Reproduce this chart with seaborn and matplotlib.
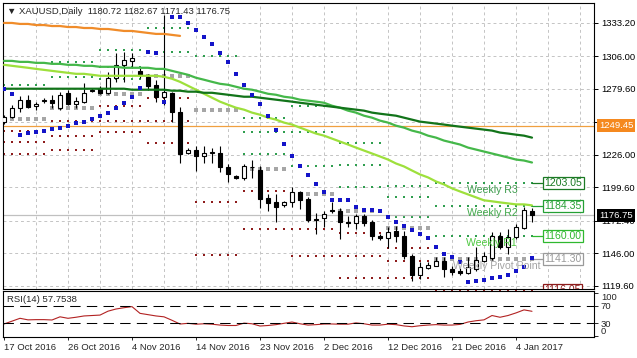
import numpy as np
import pandas as pd
import matplotlib
matplotlib.use('Agg')
import matplotlib.pyplot as plt
import seaborn as sns
from matplotlib.transforms import blended_transform_factory

# ---------------- data ----------------
date_labels = ['17 Oct 2016', '26 Oct 2016', '4 Nov 2016', '14 Nov 2016', '23 Nov 2016',
               '2 Dec 2016', '12 Dec 2016', '21 Dec 2016', '4 Jan 2017']
price_ticks = [1119.60, 1146.00, 1172.40, 1199.60, 1226.00, 1252.80, 1279.60, 1306.00, 1333.20]

opens = [1252.9, 1256.9, 1264.2, 1270.7, 1265.8, 1269.9, 1270.7, 1264.2, 1276.3, 1267.4,
         1269.1, 1278.0, 1280.4, 1276.3, 1288.5, 1299.0, 1302.2, 1294.1, 1289.3, 1282.8,
         1273.1, 1276.3, 1261.0, 1227.8, 1230.2, 1224.6, 1227.8, 1227.8, 1215.7, 1208.4,
         1206.8, 1215.7, 1214.0, 1190.6, 1187.3, 1184.9, 1187.3, 1195.4, 1189.8, 1173.6,
         1174.4, 1180.9, 1180.1, 1171.2, 1170.4, 1176.0, 1171.2, 1159.8, 1158.2, 1163.9,
         1159.8, 1143.7, 1128.3, 1134.0, 1135.6, 1139.6, 1133.1, 1131.5, 1129.9, 1133.1,
         1139.6, 1142.0, 1159.8, 1150.9, 1159.0, 1166.3, 1180.72]
highs = [1258.5, 1266.6, 1273.9, 1274.7, 1269.1, 1272.3, 1274.7, 1277.2, 1278.8, 1273.1,
         1284.4, 1280.4, 1281.5, 1293.3, 1308.7, 1309.5, 1308.7, 1296.6, 1291.7, 1286.9,
         1339.4, 1277.2, 1265.0, 1231.8, 1232.7, 1233.5, 1231.8, 1232.7, 1218.1, 1209.5,
         1218.1, 1222.1, 1216.5, 1193.8, 1193.8, 1188.2, 1199.5, 1196.2, 1191.4, 1178.4,
         1180.1, 1187.3, 1182.5, 1176.0, 1177.6, 1177.6, 1172.8, 1161.5, 1167.1, 1167.9,
         1163.9, 1145.3, 1138.8, 1138.8, 1142.8, 1142.8, 1135.6, 1134.0, 1142.8, 1150.9,
         1146.9, 1163.1, 1163.1, 1165.5, 1169.6, 1183.3, 1182.67]
lows = [1251.3, 1256.1, 1261.0, 1264.2, 1262.6, 1268.2, 1264.2, 1262.6, 1266.6, 1264.2,
        1268.2, 1277.2, 1275.5, 1275.5, 1285.2, 1285.2, 1296.6, 1288.5, 1278.8, 1269.1,
        1266.6, 1252.9, 1219.7, 1227.0, 1212.4, 1219.7, 1219.7, 1211.6, 1203.5, 1206.0,
        1205.9, 1206.8, 1182.5, 1180.1, 1171.2, 1183.3, 1183.3, 1181.7, 1171.2, 1161.5,
        1167.1, 1178.4, 1157.4, 1167.1, 1165.5, 1167.9, 1156.6, 1156.6, 1150.1, 1155.0,
        1141.2, 1123.4, 1125.1, 1133.1, 1135.6, 1126.7, 1128.3, 1128.3, 1129.1, 1131.5,
        1138.8, 1140.4, 1149.3, 1145.3, 1157.4, 1165.5, 1171.43]
closes = [1256.9, 1264.2, 1270.7, 1265.0, 1267.4, 1270.1, 1268.2, 1274.7, 1267.4, 1269.9,
          1276.3, 1278.3, 1276.3, 1288.5, 1299.0, 1303.0, 1304.6, 1290.9, 1282.0, 1273.1,
          1277.2, 1261.0, 1226.2, 1230.2, 1224.6, 1227.8, 1228.2, 1215.7, 1210.0, 1206.8,
          1216.5, 1216.0, 1189.8, 1186.5, 1183.3, 1187.3, 1195.4, 1189.0, 1172.8, 1173.2,
          1177.6, 1180.5, 1171.2, 1170.4, 1176.0, 1170.4, 1159.8, 1158.2, 1163.1, 1159.8,
          1143.7, 1128.3, 1134.8, 1136.4, 1139.6, 1133.1, 1130.7, 1129.9, 1134.8, 1140.4,
          1143.7, 1159.8, 1150.9, 1159.0, 1167.1, 1180.9, 1176.75]

# parabolic SAR
sar = [1279.6, 1275.5, 1242.3, 1244.0, 1244.8, 1245.6, 1247.2, 1248.0, 1249.6, 1252.1,
       1252.9, 1255.3, 1257.7, 1260.2, 1264.2, 1268.2, 1273.1, 1280.4, 1309.5, 1308.7,
       1269.1, 1337.8, 1337.8, 1332.9, 1327.3, 1321.6, 1316.0, 1308.7, 1301.4, 1291.7,
       1282.8, 1274.7, 1267.4, 1257.7, 1246.4, 1235.1, 1224.6, 1216.5, 1209.2, 1201.9,
       1195.4, 1189.0, 1189.0, 1189.0, 1183.3, 1180.9, 1180.9, 1180.1, 1175.2, 1171.2,
       1167.9, 1164.7, 1161.5, 1158.2, 1150.9, 1145.3, 1142.8, 1138.8, 1122.6, 1123.4,
       1124.2, 1125.9, 1126.7, 1128.3, 1131.5, 1134.8, 1142.0]

# moving averages
ma_lime = [1299.0, 1298.2, 1297.4, 1296.6, 1295.7, 1294.9, 1294.1, 1293.3, 1292.5, 1291.7,
           1291.7, 1290.9, 1290.1, 1290.1, 1290.1, 1290.1, 1290.1, 1290.1, 1290.1, 1290.1,
           1289.3, 1287.7, 1285.2, 1282.0, 1278.8, 1275.5, 1272.3, 1269.1, 1266.6, 1264.2,
           1262.6, 1260.2, 1258.5, 1256.1, 1254.5, 1252.1, 1250.5, 1248.0, 1245.6, 1243.2,
           1241.5, 1239.1, 1236.7, 1234.3, 1231.8, 1229.4, 1227.0, 1224.6, 1222.1, 1218.9,
           1216.5, 1213.2, 1210.0, 1207.6, 1204.3, 1201.9, 1198.7, 1196.2, 1193.8, 1191.4,
           1189.0, 1188.2, 1187.3, 1186.5, 1185.7, 1185.7, 1184.9]
ma_mid = [1302.2, 1302.2, 1301.4, 1301.4, 1300.6, 1300.6, 1299.8, 1299.8, 1299.0, 1299.0,
          1298.2, 1298.2, 1297.4, 1297.4, 1297.4, 1296.6, 1296.6, 1296.6, 1296.6, 1295.7,
          1295.7, 1294.1, 1292.5, 1290.9, 1288.5, 1286.9, 1285.2, 1283.6, 1282.8, 1281.2,
          1279.6, 1278.8, 1277.2, 1275.5, 1274.7, 1273.1, 1272.3, 1270.7, 1269.9, 1269.1,
          1268.2, 1265.8, 1264.2, 1261.8, 1260.2, 1257.7, 1256.1, 1253.7, 1252.1, 1249.6,
          1248.0, 1245.6, 1244.0, 1241.5, 1239.9, 1237.5, 1235.9, 1234.3, 1231.8, 1230.2,
          1228.6, 1227.0, 1225.4, 1223.8, 1222.1, 1221.3, 1219.7]
ma_dark = [1279.6, 1279.6, 1279.6, 1279.6, 1279.6, 1279.6, 1279.6, 1279.6, 1279.6, 1279.6,
           1279.6, 1279.6, 1279.6, 1279.6, 1279.6, 1279.6, 1278.8, 1278.8, 1278.8, 1278.8,
           1278.8, 1278.0, 1278.0, 1277.2, 1277.2, 1276.3, 1276.3, 1275.5, 1274.7, 1273.9,
           1273.1, 1273.1, 1272.3, 1271.5, 1270.7, 1269.9, 1269.1, 1268.2, 1267.4, 1266.6,
           1265.8, 1265.0, 1264.2, 1263.4, 1262.6, 1261.8, 1260.2, 1259.3, 1258.5, 1257.7,
           1256.1, 1254.5, 1252.9, 1252.1, 1251.3, 1250.5, 1249.6, 1248.8, 1248.0, 1247.2,
           1246.4, 1245.6, 1244.0, 1243.2, 1242.3, 1241.5, 1239.9]
ma_orange = [1333.0, 1333.0, 1332.2, 1332.2, 1331.3, 1331.3, 1330.5, 1330.5, 1329.7, 1329.7,
             1328.9, 1328.9, 1328.1, 1328.1, 1327.3, 1326.5, 1326.5, 1325.7, 1324.9, 1324.1,
             1324.1, 1323.3, 1322.5]

# weekly pivots (one segment per week, the last one is the current week)
week_start = [0, 6, 12, 18, 24, 30, 36, 42, 48, 54]
week_end = [5, 11, 17, 23, 29, 35, 41, 47, 53, 66]
nan = np.nan
piv_r3 = [nan, nan, 1311.0, nan, nan, 1256.1, 1265.8, 1235.9, 1200.3, 1203.05]
piv_r2 = [nan, 1301.4, 1297.0, 1328.9, nan, 1244.8, 1244.8, 1217.3, 1191.4, 1184.35]
piv_r1 = [1282.8, 1289.3, 1287.6, 1309.5, 1306.3, 1226.2, 1216.5, 1199.5, 1175.2, 1160.00]
piv_p = [1255.3, 1264.2, 1275.3, 1290.1, 1262.6, 1214.8, 1193.8, 1180.1, 1166.3, 1141.30]
piv_s1 = [1245.6, 1253.5, 1265.8, 1272.3, 1187.3, 1196.2, 1165.5, 1162.3, 1150.1, 1116.05]
piv_s2 = [1236.7, 1241.5, 1253.1, 1253.7, 1144.5, nan, 1143.7, 1143.7, 1139.6, nan]
piv_s3 = [1226.2, 1230.2, 1244.4, 1235.9, nan, 1165.5, nan, 1125.9, 1125.9, nan]

rsi = [28.5, 35.0, 41.6, 38.0, 38.5, 38.5, 37.7, 45.0, 41.6, 44.0,
       47.0, 48.0, 49.0, 58.0, 63.0, 66.0, 68.5, 53.0, 50.0, 47.0,
       45.0, 37.0, 28.4, 30.0, 28.0, 29.0, 28.0, 26.0, 25.0, 25.0,
       30.5, 29.0, 23.8, 25.0, 27.0, 30.0, 33.0, 29.0, 26.0, 27.0,
       28.4, 28.5, 28.0, 28.0, 31.0, 29.0, 26.0, 26.0, 28.0, 27.0,
       24.0, 22.2, 24.5, 26.0, 27.0, 26.0, 26.0, 27.5, 33.0, 36.0,
       38.0, 48.0, 44.0, 48.0, 54.0, 61.0, 57.75]

resistance_line = 1249.45
last_price = closes[-1]

# ---------------- frames ----------------
bars = np.arange(len(closes))
ohlc = pd.DataFrame({'bar': bars, 'open': opens, 'high': highs, 'low': lows, 'close': closes})
ind = pd.DataFrame({'bar': bars, 'sar': sar, 'lime': ma_lime, 'mid': ma_mid,
                    'dark': ma_dark, 'rsi': rsi})
orange_df = pd.DataFrame({'bar': bars[:len(ma_orange)], 'ma': ma_orange})

levels = {'R3': piv_r3, 'R2': piv_r2, 'R1': piv_r1, 'P': piv_p,
          'S1': piv_s1, 'S2': piv_s2, 'S3': piv_s3}
rows = []
for lvl, vals in levels.items():
    for w, (a, b, v) in enumerate(zip(week_start, week_end, vals)):
        if np.isnan(v):
            continue
        for i in range(a, b + 1):
            rows.append((i, v, lvl, w))
piv_df = pd.DataFrame(rows, columns=['bar', 'price', 'level', 'week'])
piv_df['kind'] = piv_df.level.str[0]

# ---------------- plotting ----------------
sns.set_theme(style='white', rc={'axes.edgecolor': 'black', 'axes.linewidth': 0.8})
plt.rcParams['font.family'] = ['Liberation Sans', 'DejaVu Sans']
fs = 6.8
W, H = 637, 358

fig = plt.figure(figsize=(W / 100, H / 100), dpi=100)
ax = fig.add_axes([3 / W, 1 - 289 / H, 591 / W, 286 / H])
ax_rsi = fig.add_axes([3 / W, 1 - 337 / H, 591 / W, 46 / H])

xlim = (-0.125, 73.75)
ax.set_xlim(xlim)
ax.set_ylim(1117.0, 1349.2)

# grid
ax.set_xticks(np.arange(4, 74, 4))
ax.set_yticks(price_ticks)
ax.set_yticklabels([f'{t:.2f}' for t in price_ticks])
ax.grid(True, color='#c4c4c4', lw=0.7, ls=(0, (3, 3)))
ax.set_axisbelow(True)
ax.yaxis.tick_right()
ax.tick_params(axis='x', length=0, labelbottom=False)
ax.tick_params(axis='y', direction='out', length=3, width=0.7, pad=2, labelsize=fs,
               colors='black', right=True, left=False)
for s in ax.spines.values():
    s.set_color('black')

# pivot dots
kind_colors = {'R': '#2f9e4f', 'P': '#a6a6a6', 'S': '#8e1c1c'}
for kind, size in [('R', 3), ('S', 3), ('P', 9)]:
    sub = piv_df[piv_df.kind == kind]
    sns.scatterplot(data=sub, x='bar', y='price', color=kind_colors[kind], marker='s',
                    s=size, linewidth=0, ax=ax, legend=False, zorder=2)
    if kind == 'S':
        ax.collections[-1].set_clip_on(False)

# horizontal lines
ax.axhline(resistance_line, color='#f0a040', lw=0.9, zorder=2)
ax.axhline(last_price, color='#c0c0c0', lw=0.9, zorder=2)

# candles
up = ohlc.close >= ohlc.open
ax.vlines(ohlc.bar, ohlc.low, ohlc.high, color='black', lw=0.8, zorder=4)
body = (ohlc.close - ohlc.open).where((ohlc.close - ohlc.open).abs() > 0.3, 0.3)
ax.bar(ohlc.bar, body, bottom=ohlc.open, width=0.62,
       color=np.where(up, 'white', 'black'), edgecolor='black', linewidth=0.8, zorder=5)

# moving averages
sns.lineplot(data=orange_df, x='bar', y='ma', color='#f08c2a', lw=1.6, ax=ax, zorder=6)
sns.lineplot(data=ind, x='bar', y='mid', color='#45b84a', lw=1.6, ax=ax, zorder=6)
sns.lineplot(data=ind, x='bar', y='lime', color='#9ee03c', lw=1.6, ax=ax, zorder=6)
sns.lineplot(data=ind, x='bar', y='dark', color='#12741a', lw=1.6, ax=ax, zorder=6)

# parabolic SAR
sns.scatterplot(data=ind, x='bar', y='sar', color='#1414c8', marker='s', s=6,
                linewidth=0, ax=ax, legend=False, zorder=7)

# current week labels and boxes
last = week_end[-1]
box_styles = [(piv_r3[-1], '#1b7a24'), (piv_r2[-1], '#25a035'), (piv_r1[-1], '#2fb82f'),
              (piv_p[-1], '#9a9a9a'), (piv_s1[-1], '#8e1c1c')]
for val, col in box_styles:
    ax.plot([last, 67.4], [val, val], color=col, lw=0.9, zorder=6)
    ax.text(67.55, val, f'{val:.2f}', ha='left', va='center', fontsize=7.6, color=col,
            bbox=dict(boxstyle='square,pad=0.12', fc='white', ec=col, lw=0.9),
            zorder=8, clip_on=True)

name_styles = [('Weekly R3', piv_r3[-1], 57.9, '#3a9a4a'),
               ('Weekly R2', piv_r2[-1], 57.9, '#40a84a'),
               ('Weekly R1', piv_r1[-1], 57.8, '#4ec840'),
               ('Weekly Pivot Point', piv_p[-1], 56.1, '#a4a4a4')]
for txt, val, xpos, col in name_styles:
    ax.annotate(txt, (xpos, val), xytext=(0, -6.5), textcoords='offset pixels',
                ha='left', va='center', fontsize=7.6, color=col, zorder=8)

# right axis price boxes
trans = blended_transform_factory(ax.transAxes, ax.transData)
ax.text(1.0 + 5 / 591, resistance_line, f'{resistance_line:.2f}', transform=trans,
        ha='left', va='center', fontsize=fs, color='white', clip_on=False, zorder=10,
        bbox=dict(boxstyle='square,pad=0.22', fc='#f5891f', ec='none'))
ax.text(1.0 + 5 / 591, last_price, f'{last_price:.2f}', transform=trans,
        ha='left', va='center', fontsize=fs, color='white', clip_on=False, zorder=10,
        bbox=dict(boxstyle='square,pad=0.22', fc='black', ec='none'))

ax.set_xlabel('')
ax.set_ylabel('')

# ---------------- RSI ----------------
ax_rsi.set_xlim(xlim)
ax_rsi.set_ylim(-1.5, 104.5)
sns.lineplot(data=ind, x='bar', y='rsi', color='#b22222', lw=0.8, ax=ax_rsi)
for lvl in (30, 70):
    ax_rsi.axhline(lvl, color='black', lw=0.75, ls=(0, (10, 6)))
ax_rsi.yaxis.tick_right()
ax_rsi.set_yticks([0, 30, 70, 100])
ax_rsi.set_yticklabels(['0', '30', '70', '100'])
ax_rsi.tick_params(axis='y', direction='out', length=3, width=0.7, pad=2, labelsize=fs,
                   right=True, left=False)
ylabs = ax_rsi.get_yticklabels()
ylabs[0].set_va('bottom')
ylabs[-1].set_va('top')
ax_rsi.set_xticks(np.arange(0, 65, 8))
ax_rsi.set_xticklabels(date_labels, ha='left')
ax_rsi.tick_params(axis='x', direction='out', length=2, width=0.7, pad=2, labelsize=fs,
                   bottom=True)
ax_rsi.set_xlabel('')
ax_rsi.set_ylabel('')
for s in ax_rsi.spines.values():
    s.set_color('black')

# titles
fig.text(7 / W, 1 - 11 / H, '\u25bc XAUUSD,Daily  1180.72 1182.67 1171.43 1176.75',
         fontsize=fs, va='center', ha='left')
fig.text(7 / W, 1 - 300 / H, 'RSI(14) 57.7538', fontsize=fs, va='center', ha='left')

fig.savefig('out.png', dpi=100, facecolor='white')
